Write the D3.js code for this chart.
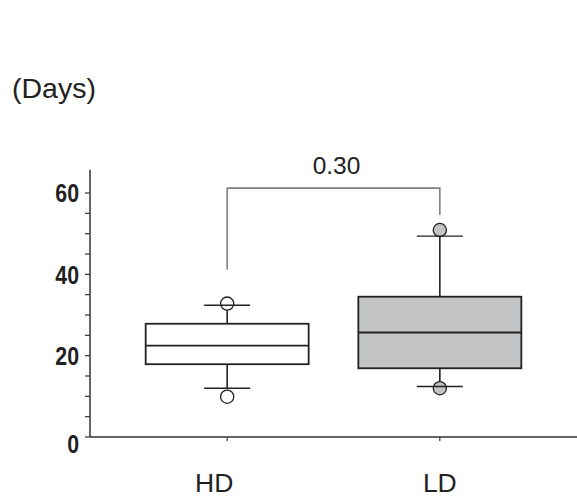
<!DOCTYPE html>
<html>
<head>
<meta charset="utf-8">
<script src="https://cdn.jsdelivr.net/npm/d3@7"></script>
<style>
  body { margin: 0; background: #fff; }
  svg { display: block; }
  text { fill: #222; }
</style>
</head>
<body>
<svg class="chart" width="577" height="499"></svg>
<script>
//Groups along the x axis
var groups = ['HD', 'LD'];

//Box statistics per group (days)
var q1 = [17.9, 16.9];
var median = [22.45, 25.7];
var q3 = [27.85, 34.5];
var whiskerLow = [12.0, 12.4];
var whiskerHigh = [32.4, 49.4];

//Single points beyond the whiskers
var pointLow = [9.9, 12.0];
var pointHigh = [32.8, 50.9];

//Comparison bracket: left foot, top, right foot, and the p value
var bracketLeft = 41.1;
var bracketTop = 61.2;
var bracketRight = 54.6;
var pValue = '0.30';

//Tick labels and minor ticks on the y axis
var yLabels = [0, 20, 40, 60];
var yMinor = [5, 10, 15, 25, 30, 35, 45, 50, 55];

//Styles
var boxFill = ['#ffffff', '#c3c4c6'];
var ink = '#222';
var plain = '"Liberation Sans", Arial, sans-serif';

var svg = d3.select('.chart');

//Scales
var x = d3.scalePoint()
    .domain(groups)
    .range([90, 577])
    .padding(0.645);
var y = d3.scaleLinear()
    .domain([0, 60])
    .range([437, 193]);

var boxW = 163;
var capW = 46;

//Y axis line
svg.append('line')
    .attr('x1', 90).attr('x2', 90)
    .attr('y1', y(0)).attr('y2', y(65.7))
    .attr('stroke', '#333').attr('stroke-width', 1.5);

//Y ticks, major and minor
svg.selectAll('.ytick')
    .data(yLabels.concat(yMinor))
    .enter().append('line')
    .attr('x1', 85).attr('x2', 90)
    .attr('y1', function(d){ return y(d); })
    .attr('y2', function(d){ return y(d); })
    .attr('stroke', '#333').attr('stroke-width', 1.2);

//Y tick labels, bold and squeezed sideways to look condensed
svg.selectAll('.ylab')
    .data(yLabels)
    .enter().append('text')
    .attr('transform', function(d){
        return 'translate(79,' + (y(d) + (d === 0 ? 7 : 0)) + ') scale(0.82,1)';
    })
    .attr('dy', '0.36em')
    .attr('text-anchor', 'end')
    .style('font-family', plain)
    .style('font-weight', 'bold')
    .style('font-size', '26px')
    .text(function(d){ return d; });

//X axis line
svg.append('line')
    .attr('x1', 90).attr('x2', 577)
    .attr('y1', y(0)).attr('y2', y(0))
    .attr('stroke', '#333').attr('stroke-width', 1.5);

//X ticks
svg.selectAll('.xtick')
    .data(groups)
    .enter().append('line')
    .attr('x1', function(d){ return x(d); })
    .attr('x2', function(d){ return x(d); })
    .attr('y1', y(0)).attr('y2', y(0) + 4)
    .attr('stroke', '#333').attr('stroke-width', 1.2);

//X labels (the HD label sits a little left of its tick)
var labelShift = [-13, 0];
svg.selectAll('.xlab')
    .data(groups)
    .enter().append('text')
    .attr('x', function(d, i){ return x(d) + labelShift[i]; })
    .attr('y', 492)
    .attr('text-anchor', 'middle')
    .style('font-family', plain)
    .style('font-size', '26.5px')
    .text(function(d){ return d; });

//Units label
svg.append('text')
    .attr('x', 12)
    .attr('y', 98)
    .style('font-family', plain)
    .style('font-size', '28.5px')
    .text('(Days)');

//Boxes
var box = svg.selectAll('.box')
    .data(groups)
    .enter().append('g');

box.each(function(d, i){
    var g = d3.select(this);
    var cx = x(d);

    //Whisker stems
    g.append('line')
        .attr('x1', cx).attr('x2', cx)
        .attr('y1', y(whiskerHigh[i])).attr('y2', y(q3[i]))
        .attr('stroke', ink).attr('stroke-width', 1.6);
    g.append('line')
        .attr('x1', cx).attr('x2', cx)
        .attr('y1', y(q1[i])).attr('y2', y(whiskerLow[i]))
        .attr('stroke', ink).attr('stroke-width', 1.6);

    //Box and median
    g.append('rect')
        .attr('x', cx - boxW / 2)
        .attr('y', y(q3[i]))
        .attr('width', boxW)
        .attr('height', y(q1[i]) - y(q3[i]))
        .attr('fill', boxFill[i])
        .attr('stroke', ink).attr('stroke-width', 1.8);
    g.append('line')
        .attr('x1', cx - boxW / 2).attr('x2', cx + boxW / 2)
        .attr('y1', y(median[i])).attr('y2', y(median[i]))
        .attr('stroke', ink).attr('stroke-width', 1.8);

    //Points
    [pointHigh[i], pointLow[i]].forEach(function(v){
        g.append('circle')
            .attr('cx', cx).attr('cy', y(v))
            .attr('r', 6.6)
            .attr('fill', boxFill[i])
            .attr('stroke', ink).attr('stroke-width', 1.3);
    });

    //Whisker caps drawn over the points
    [whiskerHigh[i], whiskerLow[i]].forEach(function(v){
        g.append('line')
            .attr('x1', cx - capW / 2).attr('x2', cx + capW / 2)
            .attr('y1', y(v)).attr('y2', y(v))
            .attr('stroke', ink).attr('stroke-width', 1.4);
    });
});

//Comparison bracket
svg.append('path')
    .attr('d', d3.line()([
        [x(groups[0]), y(bracketLeft)],
        [x(groups[0]), y(bracketTop)],
        [x(groups[1]), y(bracketTop)],
        [x(groups[1]), y(bracketRight)]
    ]))
    .attr('fill', 'none')
    .attr('stroke', '#808080').attr('stroke-width', 1.6);

svg.append('text')
    .attr('x', (x(groups[0]) + x(groups[1])) / 2 + 3)
    .attr('y', 174)
    .attr('text-anchor', 'middle')
    .style('font-family', plain)
    .style('font-size', '24.5px')
    .text(pValue);
</script>
</body>
</html>
